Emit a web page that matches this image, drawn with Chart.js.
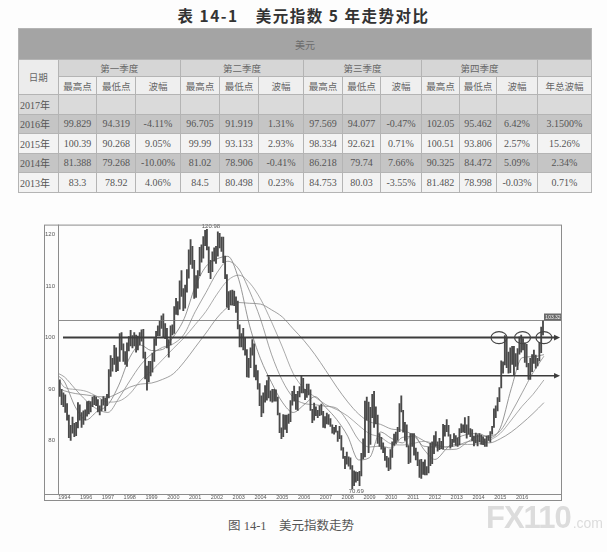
<!DOCTYPE html>
<html lang="zh-CN">
<head>
<meta charset="utf-8">
<title>美元指数走势</title>
<script src="https://cdn.jsdelivr.net/npm/chart.js@4.4.1/dist/chart.umd.min.js"></script>
<style>
html, body { margin: 0; padding: 0; }
body { width: 607px; height: 552px; position: relative; background: #fdfdfd; overflow: hidden; }
#title {
    position: absolute; left: 0; top: 4px; width: 607px; text-align: center;
    font: bold 15.5px "Noto Sans CJK SC", sans-serif; color: #333; letter-spacing: 1.5px;
}
#t {
    position: absolute; left: 18px; top: 28px; width: 573px;
    border-collapse: collapse; table-layout: fixed;
    font-family: "Liberation Serif", "Noto Sans CJK SC", serif; font-size: 10px; color: #555;
}
#t td { border: 1px solid #b4b4b4; padding: 0; text-align: center; white-space: nowrap; overflow: hidden; }
#t .r0 td { height: 30px; background: #a4a4a4; color: #6c6c6c; font: 10px "Noto Sans CJK SC", sans-serif; }
#t .r1 td { height: 16px; background: #d6d6d6; color: #666; font: 9.5px "Noto Sans CJK SC", sans-serif; }
#t .r2 td { height: 17px; background: #efefef; color: #666; font: 9.5px "Noto Sans CJK SC", sans-serif; }
#t td.date { background: #ececec; }
#t .d td { height: 18.5px; }
#t .d td:first-child { text-align: left; padding-left: 1px; }
#t .g0 td { background: #dadada; }
#t .g1 td { background: #c5c5c5; }
#t .g2 td { background: #f3f3f3; }
#box { position: absolute; left: 40px; top: 218px; width: 526px; height: 286px; }
#cap {
    position: absolute; left: 228px; top: 515px;
    font: 12.5px "Liberation Serif", "Noto Sans CJK SC", serif; color: #555;
}
#wm { position: absolute; left: 486px; top: 500px; color: #dcdcdc; font-family: "Liberation Sans", sans-serif; }
#wm .fx { font-size: 31px; font-weight: bold; letter-spacing: -1px; }
#wm .com { font-size: 14px; margin-left: 2px; }
</style>
</head>
<body>
<div id="title">表 14-1&emsp;美元指数 5 年走势对比</div>
<table id="t"></table>
<div id="box"><canvas id="c" width="526" height="286"></canvas></div>
<div id="cap">图 14-1&emsp;美元指数走势</div>
<div id="wm"><span class="fx">FX110</span><span class="com">.com</span></div>

<script>
// 表 14-1 数据
const colWidths = [39.6, 38.9, 38.5, 45, 39, 39, 45, 39, 38, 41, 38, 37, 41, 54];
const quarterNames = ['第一季度', '第二季度', '第三季度', '第四季度'];
const subHeads = ['最高点', '最低点', '波幅'];
const rowYears = ['2017年', '2016年', '2015年', '2014年', '2013年'];
const row2017 = ['', '', '', '', '', '', '', '', '', '', '', '', ''];
const row2016 = ['99.829', '94.319', '-4.11%', '96.705', '91.919', '1.31%', '97.569', '94.077', '-0.47%', '102.05', '95.462', '6.42%', '3.1500%'];
const row2015 = ['100.39', '90.268', '9.05%', '99.99', '93.133', '2.93%', '98.334', '92.621', '0.71%', '100.51', '93.806', '2.57%', '15.26%'];
const row2014 = ['81.388', '79.268', '-10.00%', '81.02', '78.906', '-0.41%', '86.218', '79.74', '7.66%', '90.325', '84.472', '5.09%', '2.34%'];
const row2013 = ['83.3', '78.92', '4.06%', '84.5', '80.498', '0.23%', '84.753', '80.03', '-3.55%', '81.482', '78.998', '-0.03%', '0.71%'];
const rowShade = ['g0', 'g1', 'g2', 'g1', 'g2'];

// 月线最高/最低，1994年10月起
const firstMonth = 1994.75;
const monthHigh = [
    91.8, 90.0, 89.3,                                                             // 1994 10-12
    88.9, 87.2, 85.0, 83.0, 84.6, 83.4, 83.6, 87.4, 87.0, 85.5, 85.8, 86.0,       // 1995
    87.6, 87.7, 87.6, 88.5, 88.7, 88.5, 88.0, 86.8, 88.0, 88.6, 88.3, 89.0,       // 1996
    93.8, 96.5, 96.0, 98.5, 98.0, 96.3, 100.8, 101.0, 98.8, 97.3, 99.0, 100.2,    // 1997
    101.4, 100.4, 101.0, 100.5, 100.3, 101.0, 101.5, 101.6, 97.2, 94.5, 95.4, 95.4, // 1998
    97.0, 99.8, 101.2, 102.3, 103.2, 104.2, 104.6, 102.7, 101.8, 99.6, 102.3, 102.5, // 1999
    106.0, 107.6, 107.0, 111.0, 113.0, 109.5, 110.2, 113.2, 117.0, 119.0, 117.7, 115.0, // 2000
    112.0, 113.0, 117.5, 118.0, 119.6, 120.8, 120.98, 117.6, 115.0, 116.6, 117.4, 117.7, // 2001
    120.5, 120.2, 119.5, 119.5, 115.8, 112.2, 108.9, 109.1, 109.2, 109.0, 107.9, 107.1, // 2002
    102.5, 100.8, 101.8, 100.0, 97.7, 96.0, 98.0, 99.6, 98.8, 94.7, 93.6, 91.1,   // 2003
    88.7, 89.3, 90.7, 91.7, 92.4, 89.7, 90.0, 90.0, 89.9, 88.5, 85.4, 82.5,       // 2004
    85.1, 85.0, 85.0, 85.2, 87.8, 89.6, 90.6, 89.0, 89.6, 90.5, 92.6, 92.1,       // 2005
    90.0, 91.0, 91.0, 89.9, 86.1, 87.3, 86.6, 85.9, 86.8, 87.1, 85.7, 84.7,       // 2006
    85.4, 85.1, 84.3, 83.1, 82.6, 83.0, 81.9, 82.8, 81.0, 78.7, 77.0, 77.8,       // 2007
    76.9, 76.7, 75.2, 74.2, 74.0, 73.9, 74.1, 77.6, 80.4, 87.7, 88.5, 87.5,       // 2008
    86.5, 89.0, 89.6, 86.6, 85.0, 81.4, 80.7, 79.6, 78.7, 77.0, 76.7, 78.3,       // 2009
    79.8, 81.3, 81.7, 82.6, 87.2, 88.7, 85.9, 83.6, 83.1, 79.1, 81.4, 81.4,       // 2010
    81.4, 78.6, 77.8, 76.3, 76.4, 75.9, 76.3, 75.0, 78.8, 79.5, 79.8, 81.0,       // 2011
    81.8, 79.8, 80.5, 79.9, 83.2, 83.0, 84.1, 83.0, 81.2, 80.3, 81.4, 81.0,       // 2012
    80.6, 82.4, 83.3, 83.1, 84.5, 83.1, 84.753, 82.4, 82.2, 80.9, 81.482, 81.2,   // 2013
    81.388, 81.1, 80.8, 80.4, 80.9, 81.02, 81.8, 82.8, 86.218, 86.8, 88.4, 90.325, // 2014
    95.5, 95.3, 100.39, 99.99, 97.2, 98.0, 98.334, 98.3, 96.9, 97.9, 100.17, 100.51, // 2015
    99.829, 99.0, 98.7, 95.0, 96.0, 96.705, 97.569, 96.6, 96.0, 99.1, 102.05, 103.32 // 2016
];
const monthLow = [
    88.6, 87.0, 86.6,                                                             // 1994 10-12
    85.5, 84.0, 80.6, 80.1, 81.5, 80.8, 81.0, 82.5, 84.0, 82.6, 83.2, 84.0,       // 1995
    84.8, 85.2, 85.6, 86.6, 87.0, 86.8, 85.6, 85.0, 85.8, 86.9, 85.8, 86.8,       // 1996
    88.3, 92.5, 93.5, 94.8, 93.4, 93.6, 95.4, 97.6, 95.4, 94.8, 94.4, 97.4,       // 1997
    98.4, 98.0, 98.4, 97.2, 97.6, 98.6, 99.3, 96.0, 92.0, 89.8, 91.4, 92.6,       // 1998
    93.3, 95.4, 98.5, 100.4, 100.4, 101.8, 100.0, 99.8, 98.0, 96.2, 98.6, 100.5,  // 1999
    100.8, 104.5, 104.4, 105.5, 108.0, 105.2, 105.7, 108.8, 111.5, 114.2, 113.4, 107.6, // 2000
    107.8, 109.6, 112.0, 114.6, 115.4, 117.8, 117.0, 112.6, 111.4, 112.8, 114.8, 114.4, // 2001
    115.8, 117.4, 116.7, 114.5, 111.4, 105.9, 105.4, 106.4, 106.3, 106.2, 104.9, 101.7, // 2002
    98.2, 98.2, 97.6, 96.6, 92.4, 92.3, 94.2, 96.6, 92.4, 91.8, 90.0, 86.8,       // 2003
    84.7, 85.4, 87.5, 87.9, 88.3, 87.7, 87.5, 87.7, 87.7, 85.0, 81.6, 80.4,       // 2004
    80.8, 82.2, 81.6, 83.4, 83.7, 86.9, 87.7, 86.1, 85.9, 88.5, 89.3, 89.3,       // 2005
    88.0, 88.4, 88.9, 85.9, 83.5, 84.0, 84.9, 84.5, 84.9, 85.0, 82.6, 82.5,       // 2006
    83.3, 83.2, 82.8, 81.5, 81.3, 81.7, 79.9, 80.4, 78.2, 76.6, 74.6, 75.5,       // 2007
    75.1, 74.5, 70.69, 71.3, 72.0, 72.3, 71.3, 73.2, 76.5, 76.9, 84.0, 77.7,      // 2008
    79.3, 84.5, 82.6, 83.3, 79.5, 78.9, 78.4, 77.7, 76.2, 74.9, 74.2, 74.5,       // 2009
    76.8, 79.1, 79.5, 80.1, 81.8, 85.6, 81.7, 80.1, 78.8, 75.6, 75.8, 78.9,       // 2010
    77.2, 76.3, 75.2, 72.9, 72.7, 73.5, 73.4, 73.4, 73.8, 75.2, 75.6, 77.5,       // 2011
    78.9, 78.0, 78.3, 78.5, 78.4, 80.9, 81.8, 80.9, 78.6, 78.9, 79.7, 79.1,       // 2012
    78.92, 79.2, 81.6, 81.7, 81.6, 80.498, 81.3, 80.8, 80.03, 79.0, 79.6, 78.998, // 2013
    79.8, 79.3, 79.268, 78.906, 78.9, 80.1, 79.74, 81.3, 82.6, 84.472, 85.8, 87.6, // 2014
    90.268, 93.1, 94.7, 94.2, 93.133, 93.2, 94.8, 92.621, 94.4, 93.806, 96.8, 97.2, // 2015
    97.6, 95.2, 94.319, 91.919, 91.9, 93.4, 95.0, 94.077, 94.5, 95.462, 97.1, 100.5 // 2016
];

// 均线，取每半年一个点
const maYears = [1994.75].concat(Array.from({ length: 45 }, (_, i) => 1995 + i / 2));
const ma12 = [92.5, 91.5, 86.6, 84.05, 85.7, 87.0, 90.8, 96.15, 98.55, 97.5, 97.7, 100.15, 103.7, 109.85, 113.8, 115.25,
    115.75, 111.3, 102.3, 95.9, 91.35, 87.5, 85.5, 87.0, 88.55, 86.45, 84.1, 80.9, 76.3, 76.75, 81.7, 80.5,
    79.6, 81.2, 78.3, 76.4, 78.35, 80.45, 81.25, 81.4, 80.65, 82.5, 90.1, 96.1, 96.3, 96.7];
const ma24 = [93.0, 92.4, 90.05, 87.8, 86.15, 85.5, 88.25, 91.6, 94.7, 96.8, 98.1, 98.8, 100.7, 105.0, 108.75, 112.55,
    114.8, 113.3, 109.0, 103.6, 96.8, 91.7, 88.4, 87.25, 87.0, 86.7, 86.3, 83.7, 80.2, 78.8, 79.0, 78.6,
    80.65, 80.85, 78.95, 78.8, 78.3, 78.4, 79.8, 80.9, 80.95, 81.95, 85.4, 89.3, 93.2, 96.4];
const ma36 = [91.8, 90.4, 89.95, 89.6, 88.6, 87.5, 87.7, 89.1, 91.7, 93.55, 95.7, 97.9, 100.0, 102.5, 105.1, 108.4,
    111.1, 112.1, 110.6, 107.5, 103.1, 98.2, 93.05, 90.1, 88.5, 87.0, 86.05, 84.8, 83.0, 81.4, 80.7, 79.4,
    79.2, 79.5, 79.9, 79.4, 78.75, 79.35, 79.3, 79.4, 80.1, 81.45, 84.0, 86.7, 89.0, 91.8];
const ma60 = [90.2, 89.7, 89.17, 88.9, 88.6, 88.5, 89.3, 90.4, 91.0, 91.2, 91.9, 93.0, 95.3, 98.1, 100.9, 103.8,
    105.9, 106.8, 106.65, 106.5, 105.4, 104.0, 101.7, 99.4, 96.7, 93.6, 90.4, 87.55, 85.2, 83.7, 83.2, 82.3,
    82.05, 81.2, 80.0, 79.15, 78.85, 79.06, 79.84, 80.0, 79.6, 80.4, 81.7, 83.4, 85.3, 87.4];

// 坐标轴
const tickYears = Array.from({ length: 22 }, (_, i) => 1995 + i);
const yearLabels = ['1994', '1996', '1997', '1998', '1999', '2000', '2001', '2002', '2003', '2004', '2005',
    '2006', '2007', '2008', '2009', '2010', '2011', '2012', '2013', '2014', '2015', '2016'];
const priceTicks = [80, 90, 100, 110, 120];

// 图上标注
const lastPrice = 103.32;
const arrowLines = [
    { y: 100, from: 1994.94, to: 2017.74, w: 2 },
    { y: 92.6, from: 2004.28, to: 2017.74, w: 1.5 }
];
const rings = [
    { x: 2014.94, y: 100 },
    { x: 2016.02, y: 100 },
    { x: 2017.0, y: 100 }
];


// 表格
function buildTable() {
    const t = document.getElementById('t');
    let html = '<colgroup>' + colWidths.map(w => '<col style="width:' + w + 'px">').join('') + '</colgroup>';
    html += '<tr class="r0"><td colspan="14">美元</td></tr>';
    html += '<tr class="r1"><td rowspan="2" class="date">日期</td>';
    quarterNames.forEach(q => { html += '<td colspan="3">' + q + '</td>'; });
    html += '<td></td></tr><tr class="r2">';
    quarterNames.forEach(() => { subHeads.forEach(s => { html += '<td>' + s + '</td>'; }); });
    html += '<td>年总波幅</td></tr>';
    [row2017, row2016, row2015, row2014, row2013].forEach((row, i) => {
        html += '<tr class="d ' + rowShade[i] + '"><td>' + rowYears[i] + '</td>';
        row.forEach(v => { html += '<td>' + v + '</td>'; });
        html += '</tr>';
    });
    t.innerHTML = html;
}
buildTable();


// 外框
const frame = {
    id: 'frame',
    afterDraw(chart) {
        const { ctx, chartArea: a, scales } = chart;
        const left = scales.y.left, bottom = scales.x.bottom;
        ctx.save();
        ctx.strokeStyle = '#8c8c8c';
        ctx.lineWidth = 1;
        ctx.strokeRect(left + 0.5, a.top + 0.5, a.right - left - 1, bottom - a.top);
        ctx.beginPath();
        ctx.moveTo(a.left + 0.5, a.top);
        ctx.lineTo(a.left + 0.5, a.bottom);
        ctx.moveTo(left, a.bottom + 0.5);
        ctx.lineTo(a.right, a.bottom + 0.5);
        ctx.stroke();
        ctx.restore();
    }
};

// 水平线、箭头、圆圈、极值标注
const notes = {
    id: 'notes',
    afterDatasetsDraw(chart) {
        const { ctx, chartArea: a, scales: { x, y } } = chart;
        ctx.save();

        // 现价线
        const yp = Math.round(y.getPixelForValue(lastPrice)) + 0.5;
        ctx.strokeStyle = '#707070';
        ctx.lineWidth = 0.8;
        ctx.beginPath();
        ctx.moveTo(a.left, yp);
        ctx.lineTo(a.right, yp);
        ctx.stroke();
        ctx.fillStyle = '#6a6a6a';
        ctx.fillRect(a.right - 18, yp - 7, 18, 7);
        ctx.fillStyle = '#f4f4f4';
        ctx.font = '5px "Liberation Sans"';
        ctx.textAlign = 'center';
        ctx.textBaseline = 'middle';
        ctx.fillText(lastPrice.toFixed(2), a.right - 9, yp - 3.3);

        // 支撑/阻力线
        ctx.strokeStyle = '#3c3c3c';
        ctx.fillStyle = '#3c3c3c';
        arrowLines.forEach(l => {
            const py = y.getPixelForValue(l.y);
            const x0 = x.getPixelForValue(l.from), x1 = x.getPixelForValue(l.to);
            ctx.lineWidth = l.w;
            ctx.beginPath();
            ctx.moveTo(x0, py);
            ctx.lineTo(x1 - 4, py);
            ctx.stroke();
            ctx.beginPath();
            ctx.moveTo(x1, py);
            ctx.lineTo(x1 - 6, py - 2.8);
            ctx.lineTo(x1 - 6, py + 2.8);
            ctx.closePath();
            ctx.fill();
        });

        // 圆圈
        ctx.strokeStyle = '#444';
        ctx.lineWidth = 1.2;
        rings.forEach(r => {
            ctx.beginPath();
            ctx.ellipse(x.getPixelForValue(r.x), y.getPixelForValue(r.y), 8, 6, 0, 0, Math.PI * 2);
            ctx.stroke();
        });

        // 最高点、最低点
        const hi = Math.max(...monthHigh), lo = Math.min(...monthLow);
        const iHi = monthHigh.indexOf(hi), iLo = monthLow.indexOf(lo);
        ctx.fillStyle = '#555';
        ctx.font = '6px "Liberation Sans"';
        ctx.textBaseline = 'bottom';
        ctx.fillText(hi.toFixed(2), x.getPixelForValue(monthX(iHi)) + 4, y.getPixelForValue(hi) - 0.5);
        ctx.textBaseline = 'top';
        ctx.fillText(lo.toFixed(2), x.getPixelForValue(monthX(iLo)) + 4, y.getPixelForValue(lo) - 1);
        ctx.restore();
    }
};

function monthX(i) {
    return firstMonth + (i + 0.5) / 12;
}

function maSeries(vals) {
    return vals.map((v, i) => ({ x: maYears[i], y: v }));
}

function maDataset(vals, color) {
    return {
        type: 'line',
        data: maSeries(vals),
        borderColor: color,
        borderWidth: 0.8,
        pointRadius: 0,
        cubicInterpolationMode: 'monotone',
        fill: false
    };
}

Chart.defaults.font.family = '"Liberation Sans", Arial, sans-serif';

new Chart(document.getElementById('c'), {
    type: 'bar',
    data: {
        datasets: [
            {
                type: 'bar',
                data: monthHigh.map((h, i) => ({ x: monthX(i), y: [monthLow[i], h] })),
                backgroundColor: '#4a4a4a',
                borderWidth: 0,
                barThickness: 1.2,
                grouped: false
            },
            maDataset(ma12, '#7c7c7c'),
            maDataset(ma24, '#8a8a8a'),
            maDataset(ma36, '#959595'),
            maDataset(ma60, '#888888')
        ]
    },
    options: {
        responsive: false,
        animation: false,
        layout: { padding: { left: 4, right: 4, top: 6, bottom: 4 } },
        plugins: { legend: { display: false }, tooltip: { enabled: false } },
        scales: {
            x: {
                type: 'linear',
                min: 1994.71,
                max: 2017.83,
                offset: false,
                grid: { display: false, drawTicks: false },
                border: { display: false },
                afterBuildTicks: s => { s.ticks = tickYears.map(v => ({ value: v })); },
                afterFit: s => { s.height = 6; },
                ticks: {
                    autoSkip: false,
                    maxRotation: 0,
                    padding: 0,
                    color: '#5a5a5a',
                    font: { size: 5.5 },
                    callback: (v, i) => yearLabels[i]
                }
            },
            y: {
                min: 69.7,
                max: 121.9,
                grid: { display: false, drawTicks: false },
                border: { display: false },
                afterBuildTicks: s => { s.ticks = priceTicks.map(v => ({ value: v })); },
                afterFit: s => { s.width = 14; },
                ticks: {
                    padding: 3,
                    color: '#5a5a5a',
                    font: { size: 6 }
                }
            }
        }
    },
    plugins: [frame, notes]
});
</script>
</body>
</html>
